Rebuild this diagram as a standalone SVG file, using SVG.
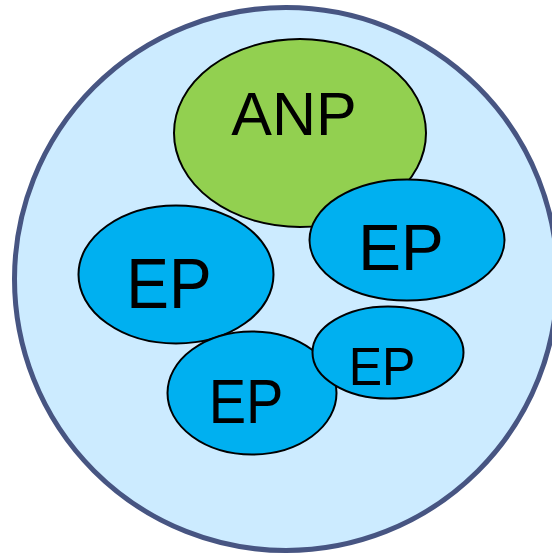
<svg xmlns="http://www.w3.org/2000/svg" width="552" height="555" viewBox="0 0 552 555">
  <style>
    .cell { fill: #CCEBFF; stroke: #475582; stroke-width: 5; }
    .part { stroke: #000000; stroke-width: 2; }
    .anp { fill: #92D050; }
    .ep { fill: #00B0F0; }
    .lbl { font-family: "Liberation Sans", Arial, sans-serif; fill: #000000; text-anchor: middle; }
  </style>
  <rect width="552" height="555" fill="#ffffff"/>
  <g id="container">
    <circle class="cell" cx="286" cy="279" r="271.5"/>
  </g>
  <g id="anp">
    <ellipse class="part anp" cx="300" cy="133" rx="126" ry="94"/>
    <text class="lbl" font-size="61" transform="translate(294 135)">ANP</text>
  </g>
  <g id="ep-left">
    <ellipse class="part ep" cx="176" cy="274.5" rx="97.5" ry="69"/>
    <text class="lbl" font-size="64" transform="translate(169 308) scale(1 1.1)">EP</text>
  </g>
  <g id="ep-upper-right">
    <ellipse class="part ep" cx="407" cy="240" rx="97.5" ry="60.5"/>
    <text class="lbl" font-size="64" transform="translate(401 270)">EP</text>
  </g>
  <g id="ep-bottom">
    <ellipse class="part ep" cx="252" cy="393" rx="84.5" ry="61.5"/>
    <text class="lbl" font-size="56" transform="translate(246 423) scale(1 1.14)">EP</text>
  </g>
  <g id="ep-small">
    <ellipse class="part ep" cx="388" cy="352.5" rx="75.5" ry="46"/>
    <text class="lbl" font-size="50" transform="translate(382 385) scale(1 1.07)">EP</text>
  </g>
  <g id="connectors"/>
</svg>
